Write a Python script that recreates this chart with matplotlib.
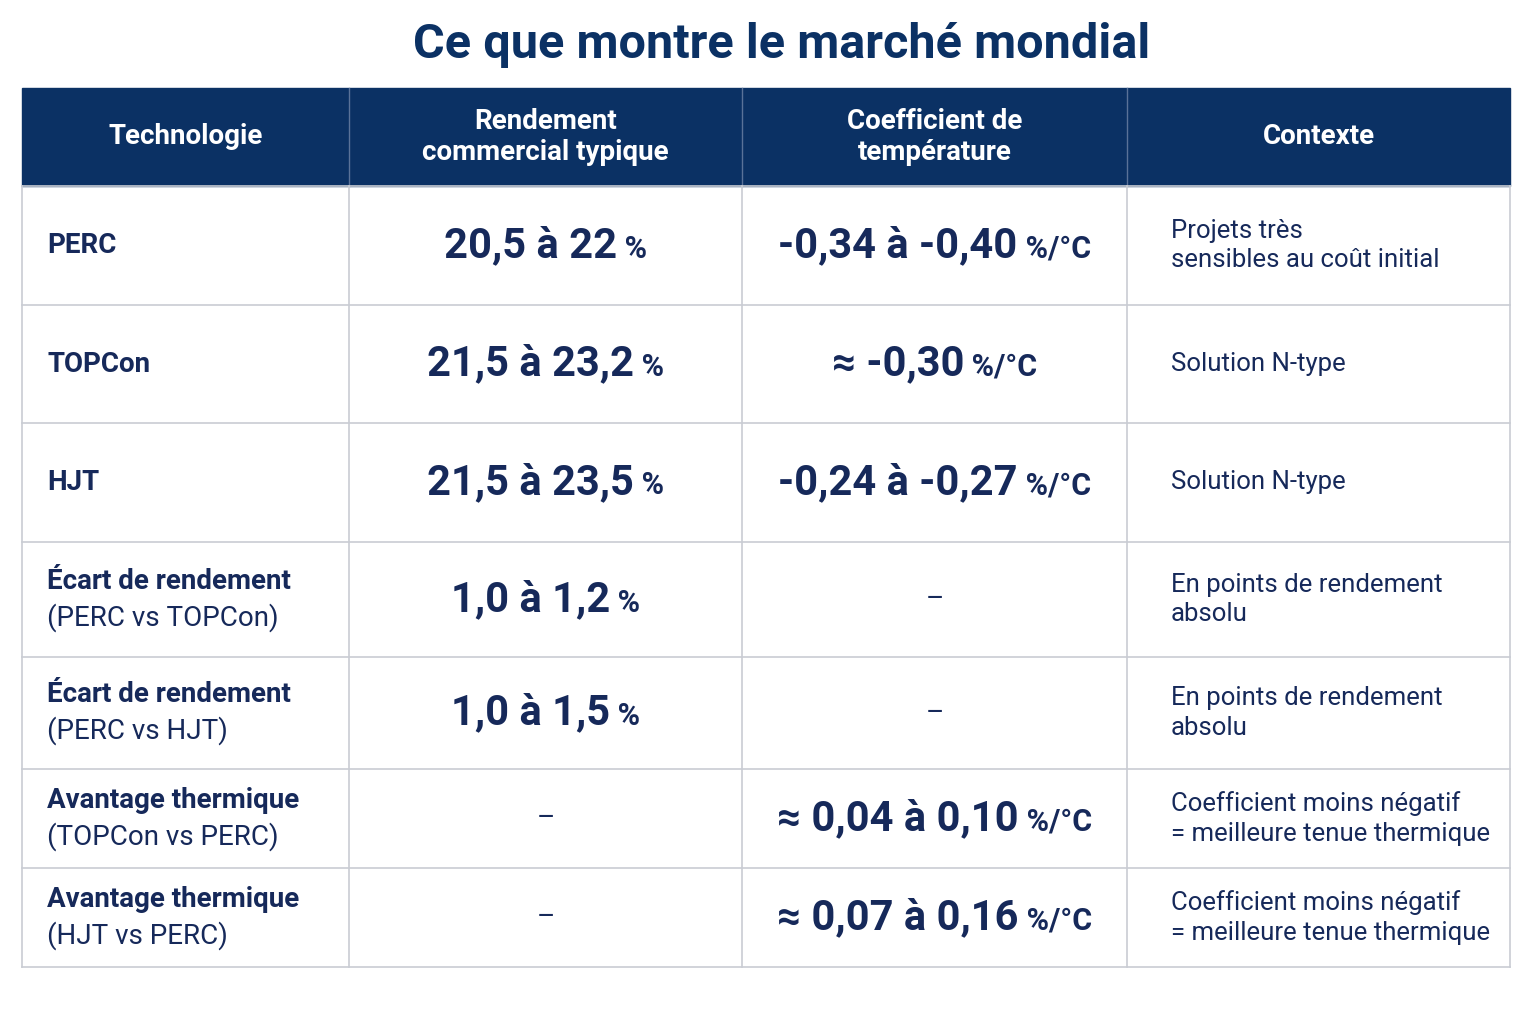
import matplotlib
matplotlib.use("Agg")
import matplotlib.pyplot as plt
from matplotlib.patches import Rectangle

title = "Ce que montre le marché mondial"
headers = ["Technologie", "Rendement\ncommercial typique", "Coefficient de\ntempérature", "Contexte"]
row_titles = ["PERC", "TOPCon", "HJT", "Écart de rendement", "Écart de rendement",
              "Avantage thermique", "Avantage thermique"]
row_subs = ["", "", "", "(PERC vs TOPCon)", "(PERC vs HJT)", "(TOPCon vs PERC)", "(HJT vs PERC)"]
rendement = ["20,5 à 22", "21,5 à 23,2", "21,5 à 23,5", "1,0 à 1,2", "1,0 à 1,5", "", ""]
coef = ["-0,34 à -0,40", "≈ -0,30", "-0,24 à -0,27", "", "", "≈ 0,04 à 0,10", "≈ 0,07 à 0,16"]
contexte = ["Projets très\nsensibles au coût initial", "Solution N-type", "Solution N-type",
            "En points de rendement\nabsolu", "En points de rendement\nabsolu",
            "Coefficient moins négatif\n= meilleure tenue thermique",
            "Coefficient moins négatif\n= meilleure tenue thermique"]

NAVY = "#0B3164"
TXT = "#16295A"
GRID = "#C9CCD3"
cols = [22, 349, 742, 1127, 1510]
rows = [88, 186, 305, 423, 542, 657, 769, 868, 967]

fig = plt.figure(figsize=(15.36, 10.24), dpi=100)
ax = fig.add_axes([0, 0, 1, 1])
ax.set_xlim(0, 1536); ax.set_ylim(1024, 0); ax.axis("off")
FONT = ["Roboto", "DejaVu Sans"]

ax.text(782, 45, title, ha="center", va="center", fontsize=35, fontweight="bold",
        color=NAVY, family=FONT)
ax.add_patch(Rectangle((cols[0], rows[0]), cols[-1]-cols[0], rows[1]-rows[0], color=NAVY, zorder=0))
for i, h in enumerate(headers):
    ax.text((cols[i]+cols[i+1])/2, (rows[0]+rows[1])/2, h, ha="center", va="center",
            fontsize=20, fontweight="bold", color="white", family=FONT, linespacing=1.15)
for x in cols[1:-1]:
    ax.plot([x, x], [rows[0], rows[1]], color="#5A7298", lw=1)
# grid
for y in rows[1:]:
    ax.plot([cols[0], cols[-1]], [y, y], color=GRID, lw=1.2)
for x in cols:
    ax.plot([x, x], [rows[1], rows[-1]], color=GRID, lw=1.2)

fig.canvas.draw()
r = fig.canvas.get_renderer()

def value(cx, cy, main, unit):
    if not main:
        ax.text(cx, cy, "–", ha="center", va="center", fontsize=20, color=TXT, family=FONT)
        return
    t1 = ax.text(0, cy, main, ha="left", va="center", fontsize=30, fontweight="bold",
                 color=TXT, family=FONT)
    t2 = ax.text(0, cy+3, " " + unit, ha="left", va="center", fontsize=22, fontweight="bold",
                 color=TXT, family=FONT)
    w1 = t1.get_window_extent(r).width
    w2 = t2.get_window_extent(r).width
    x0 = cx - (w1 + w2) / 2
    t1.set_x(x0); t2.set_x(x0 + w1)

for i in range(len(row_titles)):
    cy = (rows[i+1]+rows[i+2])/2
    if row_subs[i]:
        ax.text(47, cy-18, row_titles[i], ha="left", va="center", fontsize=20,
                fontweight="bold", color=TXT, family=FONT)
        ax.text(47, cy+18, row_subs[i], ha="left", va="center", fontsize=20,
                color=TXT, family=FONT)
    else:
        ax.text(47, cy, row_titles[i], ha="left", va="center", fontsize=20,
                fontweight="bold", color=TXT, family=FONT)
    value((cols[1]+cols[2])/2, cy, rendement[i], "%")
    value((cols[2]+cols[3])/2, cy, coef[i], "%/°C")
    ax.text(1171, cy, contexte[i], ha="left", va="center", fontsize=18.5,
            color=TXT, family=FONT, linespacing=1.3)

fig.savefig("out.png", dpi=100, facecolor="white")
